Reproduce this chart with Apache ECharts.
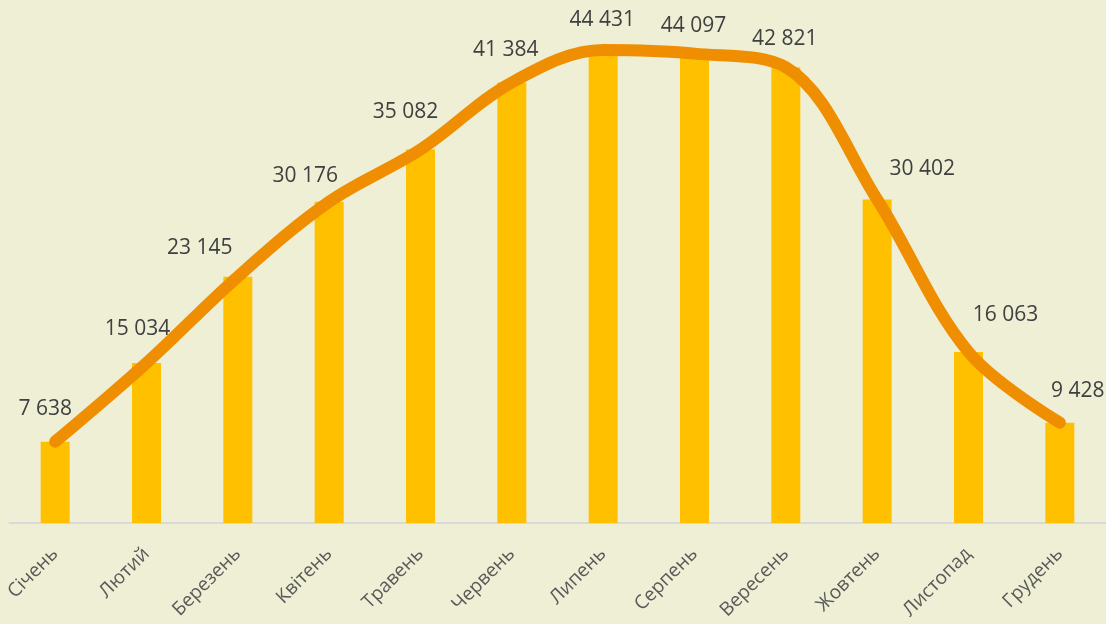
<!DOCTYPE html>
<html>
<head>
<meta charset="utf-8">
<script src="https://cdn.jsdelivr.net/npm/echarts@6/dist/echarts.min.js"></script>
<style>
html,body{margin:0;padding:0;background:#EFEFD6;}
#chart{width:1106px;height:624px;}
</style>
</head>
<body>
<div id="chart"></div>
<script>
const categories = ['Січень','Лютий','Березень','Квітень','Травень','Червень','Липень','Серпень','Вересень','Жовтень','Листопад','Грудень'];
const barValues = [7638, 15034, 23145, 30176, 35082, 41384, 44431, 44097, 42821, 30402, 16063, 9428];
const lineValues = [7638, 15034, 23145, 30176, 35082, 41384, 44431, 44097, 42821, 30402, 16063, 9428];
// label placement tweaks (style only)
const labelOffsets = [[-10,-33],[-9,-34],[-38,-29],[-24,-26],[-15,-38],[-6,-32],[-1,-30],[-1,-28],[-1,-28],[45,-30],[37,-37],[18,-32]];

function fmt(v){ return String(v).replace(/\B(?=(\d{3})+(?!\d))/g, ' '); }

const chart = echarts.init(document.getElementById('chart'));
chart.setOption({
  backgroundColor: '#EFEFD6',
  animation: false,
  grid: {left: 9.5, right: 0.5, top: 44, bottom: 101},
  xAxis: {
    type: 'category',
    data: categories,
    axisLine: {lineStyle: {color: '#D9D9D9', width: 2}},
    axisTick: {show: false},
    axisLabel: {rotate: 45, margin: 28, color: '#595959', fontSize: 19, fontFamily: 'Open Sans', interval: 0}
  },
  yAxis: {type: 'value', min: 0, max: 45000, show: false, splitLine: {show: false}},
  series: [
    {
      type: 'bar',
      data: barValues.map((v, i) => ({
        value: v,
        label: {offset: labelOffsets[i]}
      })),
      barWidth: 29,
      itemStyle: {color: '#FFC000'},
      label: {
        show: true, position: 'top', distance: 0,
        verticalAlign: 'middle', align: 'center',
        formatter: p => fmt(p.value),
        color: '#404040', fontSize: 21, fontFamily: 'Open Sans'
      },
      z: 2
    },
    {
      type: 'line',
      data: lineValues,
      smooth: 0.35,
      symbol: 'none',
      lineStyle: {color: '#EE8E00', width: 12, cap: 'round', join: 'round'},
      z: 3
    }
  ]
});
</script>
</body>
</html>
